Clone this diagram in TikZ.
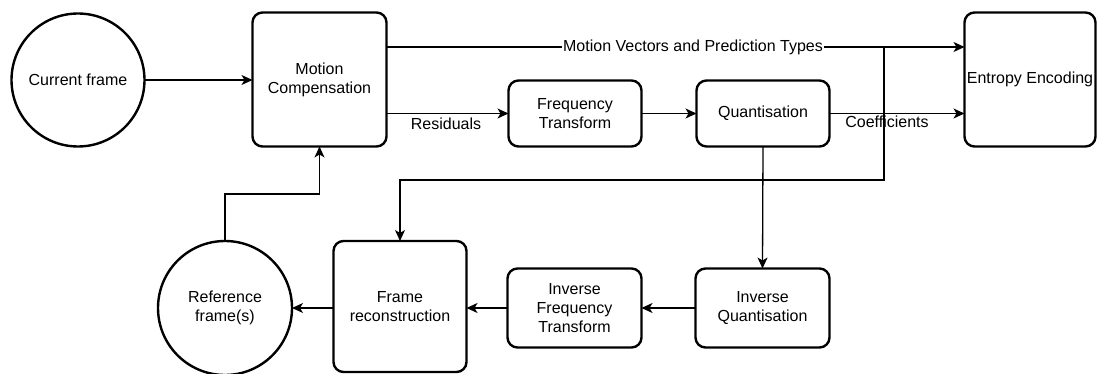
\documentclass[tikz,border=0pt]{standalone}
\usepackage{fontspec}
\setmainfont{Liberation Sans}
\usetikzlibrary{arrows.meta}
\begin{document}
\begin{tikzpicture}[x=1pt,y=-1pt,
  every node/.style={font=\fontsize{16}{19}\selectfont, align=center},
  blk/.style={draw, line width=2.4pt, rounded corners=10pt, inner sep=0pt, outer sep=0pt},
  circ/.style={draw, circle, line width=2.4pt, inner sep=0pt, outer sep=0pt},
  conn/.style={line width=1.3pt},
  arr/.style={conn, -{Stealth[length=11pt,width=10pt,inset=3pt]}},
  lbl/.style={inner sep=1pt}]
\useasboundingbox (0,0) rectangle (1098,374);
\node[circ, minimum size=133pt] (cur) at (78,80) {Current frame};
\node[blk, minimum width=134pt, minimum height=134pt] (mc) at (319.5,79.5) {Motion\\Compensation};
\node[blk, minimum width=133pt, minimum height=66pt] (ft) at (575,113.5) {Frequency\\Transform};
\node[blk, minimum width=133pt, minimum height=66pt] (q) at (763,113.5) {Quantisation};
\node[blk, minimum width=131pt, minimum height=134pt] (ee) at (1030,79.5) {Entropy Encoding};
\node[blk, minimum width=133pt, minimum height=131pt] (fr) at (400,306.5) {Frame\\reconstruction};
\node[circ, minimum size=134pt] (ref) at (225,308) {Reference\\frame(s)};
\node[blk, minimum width=134pt, minimum height=79pt] (ift) at (574.5,308) {Inverse\\Frequency\\Transform};
\node[blk, minimum width=134pt, minimum height=79pt] (iq) at (762.5,308) {Inverse\\Quantisation};
\coordinate (br) at (884,47);
\coordinate (bl) at (884,180);
% connectors
\draw[arr] (cur.east) -- (mc.west |- cur.east);
\draw[arr] (mc.east |- br) -- (ee.west |- br);
\node[lbl, fill=white] (mvl) at (693,47) {Motion Vectors and Prediction Types};
\draw[arr] (mc.east |- ft.west) -- (ft.west);
\node[anchor=base] (res) at (446,130) {Residuals};
\draw[arr] (ft.east) -- (q.west);
\draw[arr] (q.east) -- (ee.west |- q.east);
\node[anchor=base] (coef) at (887,128) {Coefficients};
\draw[arr] (br) -- (bl) -| (fr.north);
\draw[arr] (q.south) -- (iq.north);
\draw[arr] (iq.west) -- (ift.east);
\draw[arr] (ift.west) -- (fr.east |- ift.west);
\draw[arr] (fr.west |- ref.east) -- (ref.east);
\draw[arr] (ref.north) -- (ref.north |- 0,194) -| (mc.south);
\end{tikzpicture}
\end{document}
